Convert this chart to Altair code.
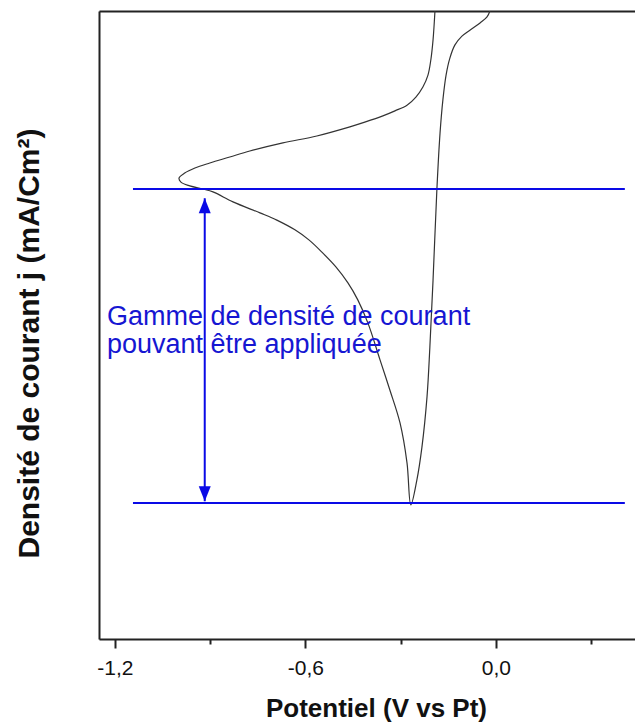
import altair as alt
import pandas as pd

# Cyclic voltammogram (potential in V vs Pt, current density in arbitrary units)
potential = [-0.192, -0.198, -0.205, -0.214, -0.230, -0.252, -0.280, -0.318, -0.356, -0.413,
             -0.460, -0.564, -0.671, -0.775, -0.838, -0.901, -0.948, -0.980, -0.998, -0.992,
             -0.964, -0.923, -0.891, -0.828, -0.743, -0.690, -0.633, -0.589, -0.548, -0.504,
             -0.466, -0.435, -0.403, -0.365, -0.334, -0.302, -0.280, -0.268, -0.249, -0.233,
             -0.217, -0.208, -0.198, -0.186, -0.176, -0.167, -0.157, -0.145, -0.129, -0.107,
             -0.082, -0.050, -0.028, -0.019]
current = [0.00, -0.92, -1.56, -2.04, -2.42, -2.74, -3.00, -3.18, -3.34, -3.54,
           -3.69, -3.98, -4.20, -4.46, -4.65, -4.84, -5.00, -5.16, -5.32, -5.45,
           -5.57, -5.67, -5.76, -6.08, -6.43, -6.66, -6.97, -7.29, -7.68, -8.15,
           -8.66, -9.20, -9.94, -11.11, -12.07, -13.12, -14.39, -15.73, -14.94, -13.89,
           -12.29, -10.70, -8.57, -5.70, -3.89, -2.83, -2.04, -1.50, -1.08, -0.80,
           -0.61, -0.38, -0.19, 0.00]

# Range limits (blue horizontal lines)
limit_j = [-5.67, -15.67]
limit_start = [-1.143, -1.143]
limit_end = [0.406, 0.406]

# Double arrow
arrow_E = -0.917
arrow_top = -5.96
arrow_bottom = -15.61

# Annotation
note_lines = ["Gamme de densité de courant", "pouvant être appliquée"]
note_E = [-1.225, -1.225]
note_j = [-10.0, -10.89]

tick_values = [-1.2, -0.9, -0.6, -0.3, 0.0, 0.3]

FONT = "Liberation Sans"
BLUE = "#0a0ae6"
TEXT_BLUE = "#1616d2"
AXIS = "#222222"

curve = pd.DataFrame({"E": potential, "j": current, "k": list(range(len(potential)))})
limits = pd.DataFrame({"E0": limit_start, "E1": limit_end, "j": limit_j})
arrow = pd.DataFrame({"E": [arrow_E], "jt": [arrow_top], "jb": [arrow_bottom]})
notes = pd.DataFrame({"E": note_E, "j": note_j, "t": note_lines})

xs = alt.Scale(domain=[-1.25, 0.438], nice=False, zero=False)
ys = alt.Scale(domain=[-20, 0], nice=False, zero=False)

label_expr = ("round(abs(datum.value)*10) % 6 == 0 ? "
              "replace(replace(format(datum.value, '.1f'), '.', ','), '\u2212', '-') : ''")

x_axis = alt.Axis(
    values=tick_values, labelExpr=label_expr,
    tickSize={"condition": {"test": "round(abs(datum.value)*10) % 6 == 0", "value": 9}, "value": 5},
    tickWidth=2, tickColor=AXIS, domainWidth=2, domainColor=AXIS, grid=False,
    labelFont=FONT, labelFontSize=21, labelColor="#111111", labelPadding=9,
    title="Potentiel (V vs Pt)", titleFont=FONT, titleFontSize=26, titleFontWeight="bold",
    titleColor="#111111", titleX=277, titleY=77, titleBaseline="alphabetic", titleAlign="center",
)
y_axis = alt.Axis(
    ticks=False, labels=False, grid=False, domainWidth=2, domainColor=AXIS,
    title="Densité de courant j (mA/Cm²)", titleFont=FONT, titleFontSize=30, titleFontWeight="bold",
    titleColor="#111111", titleAngle=270, titleX=-61, titleY=332, titleAlign="center",
    titleBaseline="alphabetic",
)
top_axis = alt.Axis(orient="top", labels=False, ticks=False, title=None, grid=False,
                    domainWidth=2, domainColor=AXIS)

line = alt.Chart(curve).mark_line(color="#333333", strokeWidth=1.2, clip=True,
                                  interpolate="catmull-rom").encode(
    x=alt.X("E:Q", scale=xs, axis=x_axis),
    y=alt.Y("j:Q", scale=ys, axis=y_axis),
    order="k:Q",
)

hlines = alt.Chart(limits).mark_rule(color=BLUE, strokeWidth=2).encode(
    x=alt.X("E0:Q", scale=xs, axis=top_axis),
    x2="E1:Q",
    y=alt.Y("j:Q", scale=ys, axis=None),
)

stem = alt.Chart(arrow).mark_rule(color=BLUE, strokeWidth=2).encode(
    x=alt.X("E:Q", scale=xs, axis=None),
    y=alt.Y("jt:Q", scale=ys, axis=None),
    y2="jb:Q",
)
head_up = alt.Chart(arrow).mark_point(shape="M0,0L-0.4,1L0.4,1Z", size=900, filled=True,
                                      color=BLUE, opacity=1).encode(
    x=alt.X("E:Q", scale=xs, axis=None),
    y=alt.Y("jt:Q", scale=ys, axis=None),
)
head_down = alt.Chart(arrow).mark_point(shape="M0,0L-0.4,-1L0.4,-1Z", size=900, filled=True,
                                        color=BLUE, opacity=1).encode(
    x=alt.X("E:Q", scale=xs, axis=None),
    y=alt.Y("jb:Q", scale=ys, axis=None),
)

text = alt.Chart(notes).mark_text(align="left", baseline="alphabetic", font=FONT,
                                  fontSize=27, color=TEXT_BLUE).encode(
    x=alt.X("E:Q", scale=xs, axis=None),
    y=alt.Y("j:Q", scale=ys, axis=None),
    text="t:N",
)

chart = alt.layer(line, hlines, stem, head_up, head_down, text).resolve_axis(
    x="independent", y="independent"
).properties(
    width=536, height=628,
    autosize=alt.AutoSizeParams(type="none"),
    padding={"left": 91, "top": 3, "right": 0, "bottom": 85},
).configure_view(stroke=None).configure(background="white")

chart.save("out.html", embed_options={"renderer": "svg", "actions": False})
